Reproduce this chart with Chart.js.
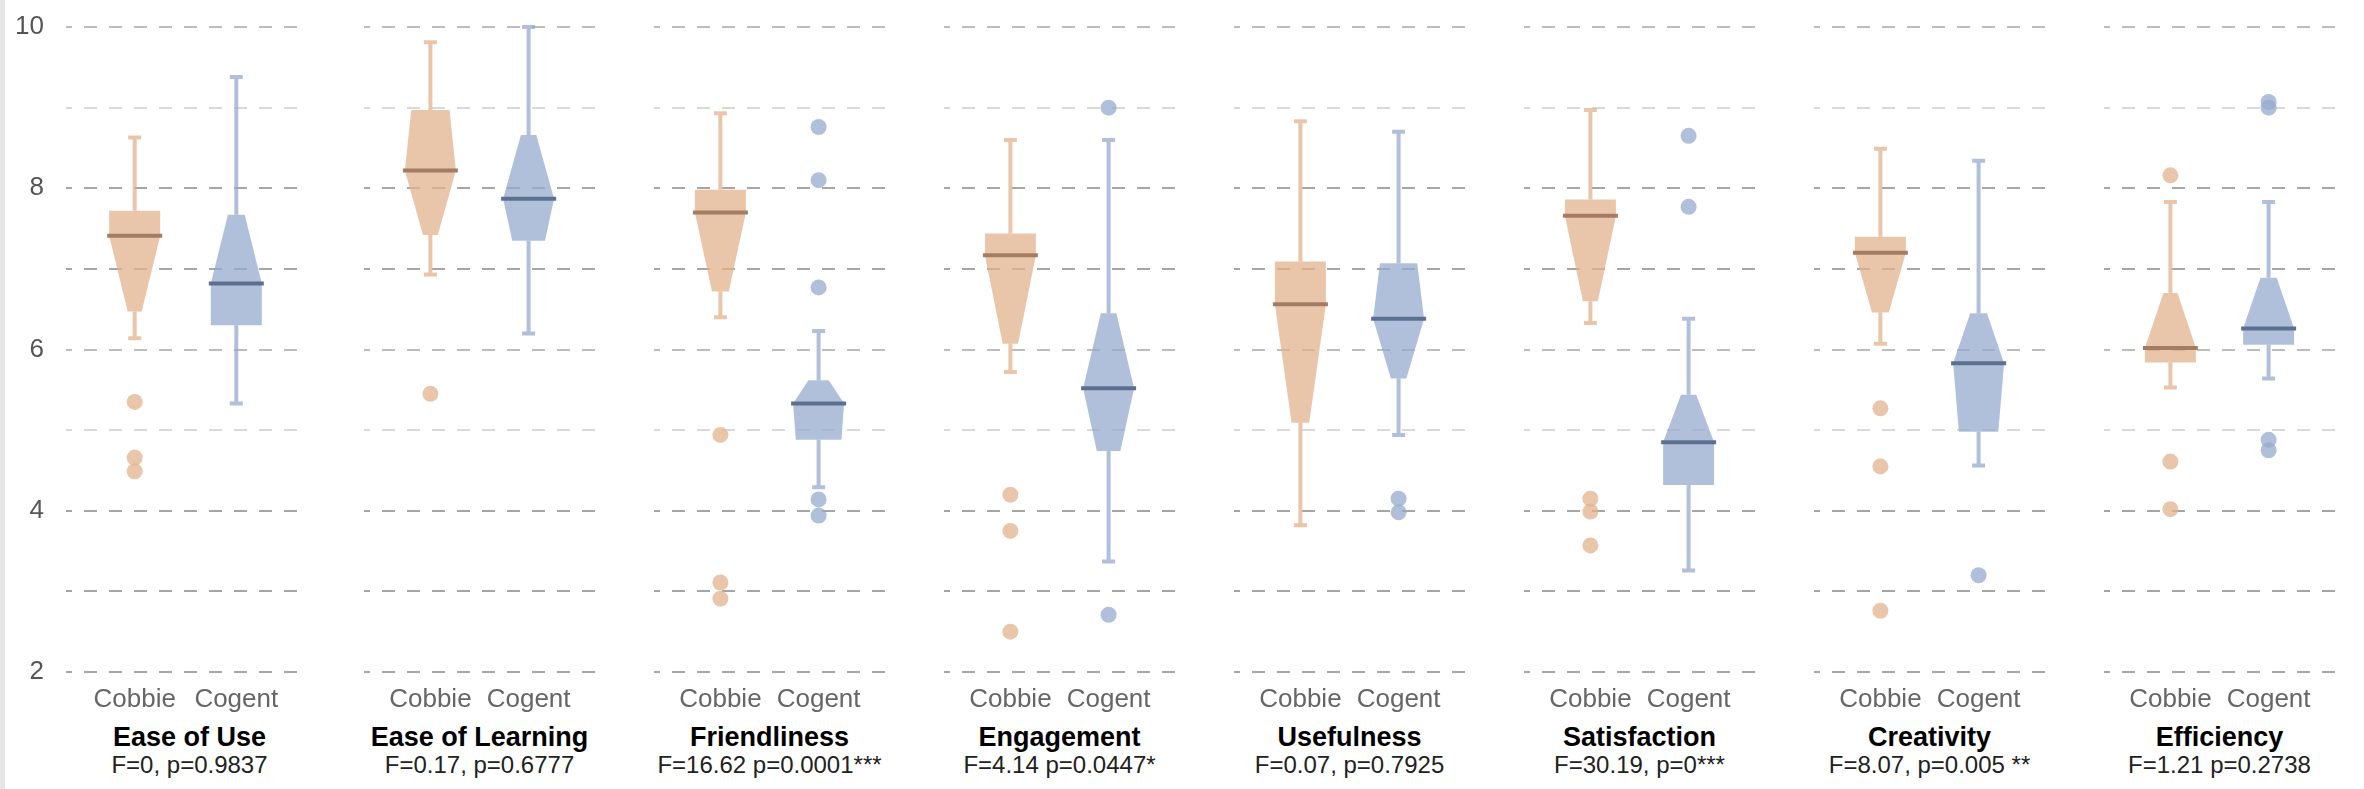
<!DOCTYPE html>
<html>
<head>
<meta charset="utf-8">
<script src="https://cdn.jsdelivr.net/npm/chart.js@4/dist/chart.umd.min.js"></script>
<style>
  html, body { margin: 0; padding: 0; background: #fff; }
  #wrap { position: relative; width: 2364px; height: 789px; overflow: hidden;
          font-family: "Liberation Sans", Arial, sans-serif; }
  #edge { position: absolute; left: 0; top: 0; width: 5px; height: 789px; background: #e6e6e6; }
  canvas { position: absolute; top: 0; }
  .name { position: absolute; width: 290px; text-align: center; font-weight: bold;
          font-size: 27px; line-height: 27px; color: #000; top: 724px; white-space: nowrap; }
  .stat { position: absolute; width: 290px; text-align: center;
          font-size: 24px; line-height: 24px; color: #222; top: 753px; white-space: nowrap; }
</style>
</head>
<body>
<div id="wrap"><div id="edge"></div></div>
<script>
// ---- data -------------------------------------------------------------
const categories = ['Ease of Use', 'Ease of Learning', 'Friendliness', 'Engagement',
                    'Usefulness', 'Satisfaction', 'Creativity', 'Efficiency'];
const statLines = ['F=0, p=0.9837', 'F=0.17, p=0.6777', 'F=16.62 p=0.0001***', 'F=4.14 p=0.0447*',
                   'F=0.07, p=0.7925', 'F=30.19, p=0***', 'F=8.07, p=0.005 **', 'F=1.21 p=0.2738'];
const groups = ['Cobbie', 'Cogent'];
const yTicks = [2, 3, 4, 5, 6, 7, 8, 9, 10];

// Cobbie
const cobbieWhiskerLow  = [6.14, 6.93, 6.40, 5.72, 3.82, 6.33, 6.07, 5.53];
const cobbieQ1          = [6.47, 7.42, 6.72, 6.07, 5.09, 6.60, 6.46, 5.84];
const cobbieMedian      = [7.41, 8.22, 7.70, 7.17, 6.56, 7.66, 7.20, 6.02];
const cobbieQ3          = [7.72, 8.97, 7.98, 7.44, 7.09, 7.86, 7.40, 6.70];
const cobbieWhiskerHigh = [8.63, 9.81, 8.93, 8.60, 8.83, 8.97, 8.49, 7.83];
const cobbieNotchLow    = [6.47, 7.40, 6.64, 6.03, 4.93, 6.57, 6.40, null];
const cobbieNotchHigh   = [null, 10.41, null, null, null, null, null, 6.70];
const cobbieOutliers    = [[5.35, 4.66, 4.49], [5.45], [4.94, 3.11, 2.91], [4.20, 3.75, 2.50],
                           [], [4.15, 3.99, 3.57], [5.27, 4.55, 2.76], [8.16, 4.61, 4.02]];

// Cogent
const cogentWhiskerLow  = [5.33, 6.20, 4.29, 3.37, 4.94, 3.26, 4.56, 5.64];
const cogentQ1          = [6.30, 7.35, 4.88, 4.74, 5.64, 4.32, 4.98, 6.06];
const cogentMedian      = [6.82, 7.87, 5.33, 5.52, 6.38, 4.85, 5.83, 6.26];
const cogentQ3          = [7.67, 8.66, 5.62, 6.45, 7.07, 5.44, 6.45, 6.89];
const cogentWhiskerHigh = [9.38, 10.0, 6.23, 8.60, 8.70, 6.38, 8.34, 7.83];
const cogentNotchLow    = [null, 6.82, 2.20, 4.47, 5.61, null, 3.13, null];
const cogentNotchHigh   = [7.74, 8.69, 5.68, 6.49, 8.24, 5.46, 6.50, 6.93];
const cogentOutliers    = [[], [], [8.76, 8.10, 6.77, 4.14, 3.94], [9.00, 2.71],
                           [4.15, 3.98], [8.65, 7.77], [3.20], [9.00, 9.07, 4.88, 4.75]];

// ---- styling ----------------------------------------------------------
const FONT = '"Liberation Sans", Arial, sans-serif';
const fills   = ['rgba(226,178,142,0.75)', 'rgba(150,171,207,0.75)'];
const medians = ['#A47C63', '#5B6F8F'];
const BOX_HALF = 25.5, WAIST_HALF = 7, MEDIAN_HALF = 27.5, CAP_HALF = 6.5;
const PANEL_LEFT = 66, PANEL_PITCH = 290, PANEL_W = 247, AXIS_W = 60, CANVAS_H = 720;

const series = [
  { lo: cobbieWhiskerLow, q1: cobbieQ1, med: cobbieMedian, q3: cobbieQ3, hi: cobbieWhiskerHigh,
    nLo: cobbieNotchLow, nHi: cobbieNotchHigh, out: cobbieOutliers },
  { lo: cogentWhiskerLow, q1: cogentQ1, med: cogentMedian, q3: cogentQ3, hi: cogentWhiskerHigh,
    nLo: cogentNotchLow, nHi: cogentNotchHigh, out: cogentOutliers }
];

function gridColor(v) {
  if (v === 9 || v === 5) return '#d9d9d9';
  if (v === 6 || v === 10) return '#bcbcbc';
  return '#a6a6a6';
}

// Outline of one half of a notched box, from the median out to a hinge.
// The box is widest at the median and narrows toward the notch end.
function sideProfile(med, hinge, notch) {
  if (notch === null) return [[med, BOX_HALF], [hinge, BOX_HALF]];
  const t = (hinge - med) / (notch - med);
  if (t >= 1) return [[med, BOX_HALF], [notch, WAIST_HALF], [hinge, WAIST_HALF]];
  return [[med, BOX_HALF], [hinge, BOX_HALF - (BOX_HALF - WAIST_HALF) * t]];
}

function boxPlugin(panel) {
  return {
    id: 'notchedBoxes',
    afterDatasetsDraw(chart) {
      const ctx = chart.ctx, xs = chart.scales.x, ys = chart.scales.y;
      series.forEach((s, g) => {
        const cx = xs.getPixelForValue(g);
        const py = v => ys.getPixelForValue(v);
        ctx.save();
        // whiskers and caps
        ctx.strokeStyle = fills[g];
        ctx.lineWidth = 4;
        ctx.beginPath();
        ctx.moveTo(cx, py(s.q3[panel])); ctx.lineTo(cx, py(s.hi[panel]));
        ctx.moveTo(cx, py(s.q1[panel])); ctx.lineTo(cx, py(s.lo[panel]));
        ctx.moveTo(cx - CAP_HALF, py(s.hi[panel])); ctx.lineTo(cx + CAP_HALF, py(s.hi[panel]));
        ctx.moveTo(cx - CAP_HALF, py(s.lo[panel])); ctx.lineTo(cx + CAP_HALF, py(s.lo[panel]));
        ctx.stroke();
        // box body
        const upper = sideProfile(s.med[panel], s.q3[panel], s.nHi[panel]);
        const lower = sideProfile(s.med[panel], s.q1[panel], s.nLo[panel]);
        const pts = [...lower.slice().reverse(), ...upper.slice(1)];
        ctx.fillStyle = fills[g];
        ctx.beginPath();
        pts.forEach(([v, h], k) => k ? ctx.lineTo(cx + h, py(v)) : ctx.moveTo(cx + h, py(v)));
        for (let k = pts.length - 1; k >= 0; k--) ctx.lineTo(cx - pts[k][1], py(pts[k][0]));
        ctx.closePath();
        ctx.fill();
        // median
        ctx.strokeStyle = medians[g];
        ctx.lineWidth = 4;
        ctx.beginPath();
        ctx.moveTo(cx - MEDIAN_HALF, py(s.med[panel]));
        ctx.lineTo(cx + MEDIAN_HALF, py(s.med[panel]));
        ctx.stroke();
        ctx.restore();
      });
    }
  };
}

const wrap = document.getElementById('wrap');

categories.forEach((name, i) => {
  const first = i === 0;
  const w = PANEL_W + (first ? AXIS_W : 0);
  const left = PANEL_LEFT + PANEL_PITCH * i - (first ? AXIS_W : 0);
  const canvas = document.createElement('canvas');
  canvas.width = w; canvas.height = CANVAS_H;
  canvas.style.left = left + 'px';
  canvas.style.width = w + 'px'; canvas.style.height = CANVAS_H + 'px';
  wrap.appendChild(canvas);

  new Chart(canvas, {
    type: 'scatter',
    data: {
      datasets: series.map((s, g) => ({
        label: groups[g],
        data: s.out[i].map(v => ({ x: g, y: v })),
        pointRadius: 8, pointHoverRadius: 8,
        backgroundColor: fills[g], borderWidth: 0
      }))
    },
    options: {
      responsive: false, animation: false, events: [],
      layout: { padding: { top: 27, bottom: 0, left: 0, right: 0 } },
      plugins: { legend: { display: false }, tooltip: { enabled: false } },
      scales: {
        x: {
          type: 'linear', min: -0.676, max: 1.676,
          grid: { display: false }, border: { display: false },
          afterBuildTicks: s => { s.ticks = groups.map((_, k) => ({ value: k })); },
          afterFit: s => { s.height = CANVAS_H - 672; s.paddingLeft = 0; s.paddingRight = 0; },
          ticks: { padding: 4, color: '#666', font: { family: FONT, size: 26 },
                   maxRotation: 0, autoSkip: false,
                   callback: v => groups[v] ?? '' }
        },
        y: {
          min: 2, max: 10,
          afterBuildTicks: s => { s.ticks = yTicks.map(v => ({ value: v })); },
          afterFit: s => { s.width = first ? AXIS_W : 0; s.paddingTop = 0; s.paddingBottom = 0; },
          ticks: { display: first, padding: 22, color: '#555', font: { family: FONT, size: 26 },
                   callback: v => (v % 2 === 0 ? String(v) : '') },
          grid: { drawTicks: false, lineWidth: 2, color: c => gridColor(c.tick ? c.tick.value : 0) },
          border: { display: false, dash: [13, 12], dashOffset: 7 }
        }
      }
    },
    plugins: [boxPlugin(i)]
  });

  const center = PANEL_LEFT + PANEL_PITCH * i + PANEL_W / 2;
  const n = document.createElement('div');
  n.className = 'name'; n.textContent = name; n.style.left = (center - 145) + 'px';
  wrap.appendChild(n);
  const st = document.createElement('div');
  st.className = 'stat'; st.textContent = statLines[i]; st.style.left = (center - 145) + 'px';
  wrap.appendChild(st);
});
</script>
</body>
</html>
